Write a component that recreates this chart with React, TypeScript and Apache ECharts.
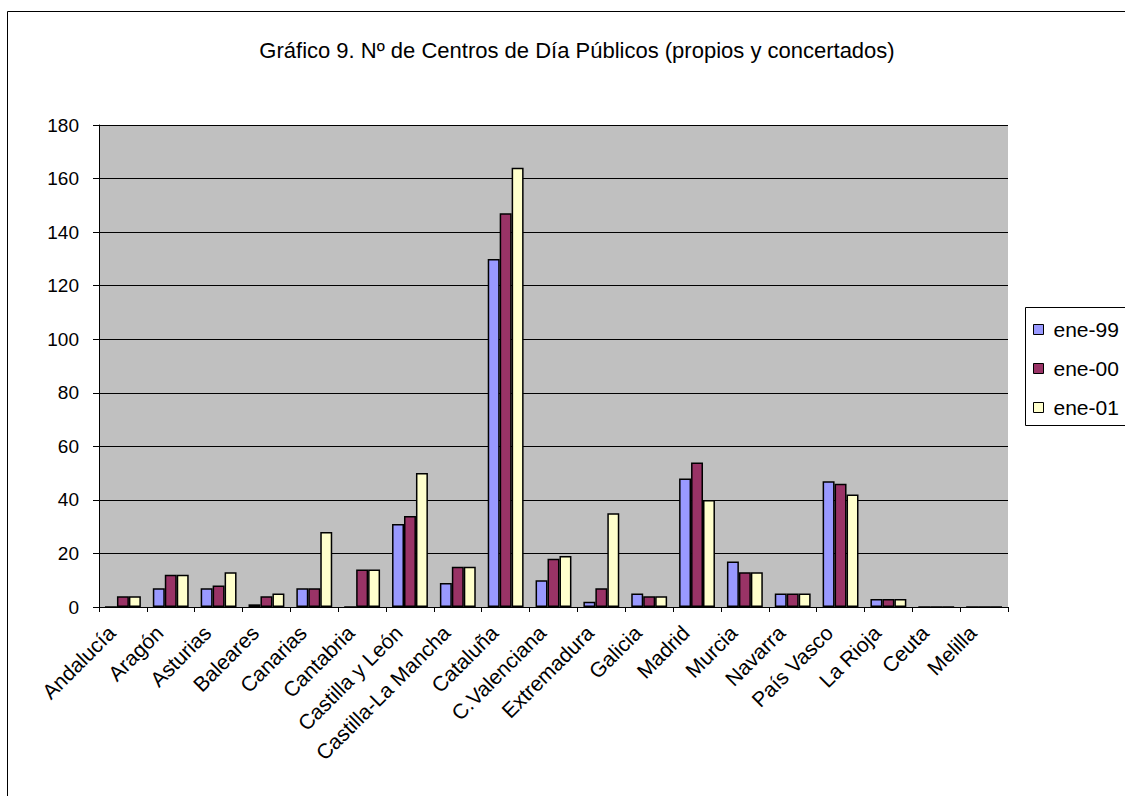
import React, { useEffect, useRef } from "react";
import * as echarts from "echarts";

const categories = [
  "Andalucía", "Aragón", "Asturias", "Baleares", "Canarias", "Cantabria",
  "Castilla y León", "Castilla-La Mancha", "Cataluña", "C.Valenciana",
  "Extremadura", "Galicia", "Madrid", "Murcia", "Navarra", "País Vasco",
  "La Rioja", "Ceuta", "Melilla",
];
const ene99 = [0, 7, 7, 1, 7, 0, 31, 9, 130, 10, 2, 5, 48, 17, 5, 47, 3, 0, 0];
const ene00 = [4, 12, 8, 4, 7, 14, 34, 15, 147, 18, 7, 4, 54, 13, 5, 46, 3, 0, 0];
const ene01 = [4, 12, 13, 5, 28, 14, 50, 15, 164, 19, 35, 4, 40, 13, 5, 42, 3, 0, 0];
const seriesNames = ["ene-99", "ene-00", "ene-01"];
const yTicks = { min: 0, max: 180, interval: 20 };

export default function App() {
  const ref = useRef<HTMLDivElement>(null);
  useEffect(() => {
    const chart = echarts.init(ref.current!, null, { renderer: "svg" });
    const font = "Arial, 'Liberation Sans', sans-serif";
    const colors = ["#9999FF", "#993366", "#FFFFCC"];
    const data = [ene99, ene00, ene01];
    chart.setOption({
      animation: false,
      backgroundColor: "#ffffff",
      title: {
        text: "Gráfico 9. Nº de Centros de Día Públicos (propios y concertados)",
        left: 572,
        textAlign: "center",
        top: 34,
        textStyle: { fontFamily: font, fontSize: 22, fontWeight: "normal", color: "#000" },
      },
      graphic: [
        {
          type: "rect",
          shape: { x: 7.5, y: 11.5, width: 1130, height: 800 },
          style: { fill: "none", stroke: "#000", lineWidth: 1 },
          silent: true,
          z: -1,
        },
        {
          type: "rect",
          shape: { x: 1025.5, y: 307.5, width: 110, height: 118 },
          style: { fill: "#fff", stroke: "#000", lineWidth: 1 },
          silent: true,
          z: 0,
        },
      ],
      legend: {
        orient: "vertical",
        left: 1033,
        top: 319,
        padding: 0,
        itemWidth: 10,
        itemHeight: 10,
        itemGap: 18,
        icon: "rect",
        textStyle: { fontFamily: font, fontSize: 21, color: "#000", padding: [0, 0, 0, 5] },
        itemStyle: { borderColor: "#000", borderWidth: 1 },
        data: seriesNames,
        z: 5,
      },
      grid: {
        left: 99,
        top: 125,
        right: 117,
        bottom: 189,
        show: true,
        backgroundColor: "#C0C0C0",
        borderWidth: 0,
      },
      xAxis: {
        type: "category",
        data: categories,
        axisLine: { lineStyle: { color: "#000", width: 1 } },
        axisTick: { show: true, alignWithLabel: false, length: 5, lineStyle: { color: "#000" } },
        axisLabel: {
          rotate: 45,
          interval: 0,
          margin: 11,
          padding: [0, 16, 0, 0],
          fontFamily: font,
          fontSize: 21,
          color: "#000",
        },
      },
      yAxis: {
        type: "value",
        min: yTicks.min,
        max: yTicks.max,
        interval: yTicks.interval,
        axisLine: { show: true, lineStyle: { color: "#000", width: 1 } },
        axisTick: { show: true, length: 6, lineStyle: { color: "#000" } },
        axisLabel: { fontFamily: font, fontSize: 19, color: "#000", margin: 20 },
        splitLine: { show: true, lineStyle: { color: "#000", width: 1 } },
      },
      series: seriesNames.map((name, i) => ({
        name,
        type: "bar",
        data: data[i],
        barGap: "0%",
        barCategoryGap: "25%",
        itemStyle: { color: colors[i], borderColor: "#000", borderWidth: 1.5 },
      })),
    });
    return () => chart.dispose();
  }, []);
  return (
    <div
      ref={ref}
      style={{ position: "absolute", left: 0, top: 0, width: 1125, height: 796 }}
    />
  );
}
